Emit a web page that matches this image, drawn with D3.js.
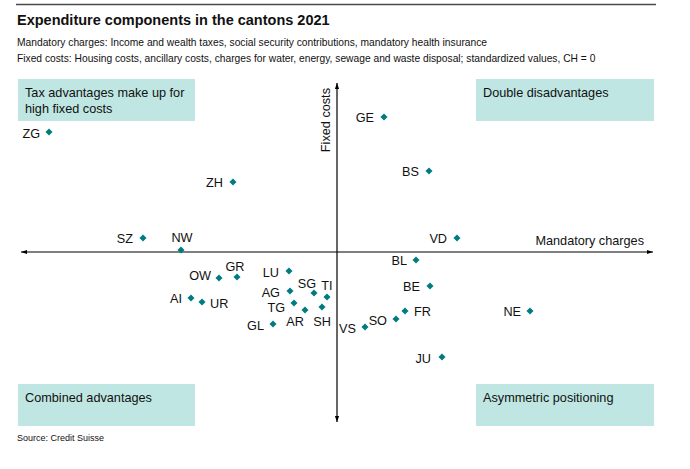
<!DOCTYPE html>
<html><head><meta charset="utf-8">
<script src="https://cdn.jsdelivr.net/npm/d3@7"></script>
<style>
body{margin:0;background:#fff}
text{font-family:"Liberation Sans",Arial,Helvetica,sans-serif;fill:#111}
</style>
</head><body>
<svg id="chart" width="690" height="469"></svg>
<script>
// ---- data ----
const cantons = ["ZG","ZH","SZ","NW","GE","BS","VD","BL","BE","FR","SO","VS","NE","JU","OW","GR","AI","UR","LU","AG","SG","TI","TG","AR","SH","GL"];
const mandatoryCharges = [-2.88,-1.04,-1.94,-1.56,0.47,0.92,1.20,0.79,0.93,0.68,0.59,0.28,1.93,1.05,-1.18,-1.00,-1.46,-1.35,-0.48,-0.47,-0.23,-0.10,-0.43,-0.32,-0.15,-0.64];
const fixedCosts       = [2.40,1.40,0.28,0.04,2.70,1.62,0.28,-0.16,-0.68,-1.18,-1.34,-1.50,-1.18,-2.10,-0.52,-0.50,-0.92,-1.00,-0.38,-0.78,-0.82,-0.90,-1.02,-1.16,-1.10,-1.44];
const quadrantTexts = [["Tax advantages make up for","high fixed costs"],["Double disadvantages"],["Combined advantages"],["Asymmetric positioning"]];
const titleText = "Expenditure components in the cantons 2021";
const subtitleLines = ["Mandatory charges: Income and wealth taxes, social security contributions, mandatory health insurance",
  "Fixed costs: Housing costs, ancillary costs, charges for water, energy, sewage and waste disposal; standardized values, CH = 0"];
const xAxisTitle = "Mandatory charges";
const yAxisTitle = "Fixed costs";
const sourceText = "Source: Credit Suisse";

// ---- label placement (style) ----
const labelPos = {
  ZG:[-9,1,"end"], ZH:[-10,0,"end"], SZ:[-10,0,"end"], NW:[1,-12.5,"middle"],
  GE:[-10,0,"end"], BS:[-10,0,"end"], VD:[-10,0,"end"], BL:[-9,0,"end"],
  BE:[-10,0,"end"], FR:[9,0,"start"], SO:[-9,1,"end"], VS:[-9,1,"end"],
  NE:[-9,0,"end"], JU:[-11,1,"end"], OW:[-8,-3,"end"], GR:[-2,-10.5,"middle"],
  AI:[-9,0,"end"], UR:[8,1,"start"], LU:[-10,1,"end"], AG:[-10,1,"end"],
  SG:[-7,-10,"middle"], TI:[0,-12,"middle"], TG:[-9,4,"end"], AR:[-10,11,"middle"],
  SH:[0,14,"middle"], GL:[-9,1,"end"]
};

const svg = d3.select("#chart");
const x = d3.scaleLinear().domain([-3.2,3.2]).range([17,657]);
const y = d3.scaleLinear().domain([-3.7,3.5]).range([437,77]);

const teal = "#007b7f", boxFill = "#bfe6e2";

// header
svg.append("line").attr("x1",16).attr("x2",656).attr("y1",4.5).attr("y2",4.5)
  .attr("stroke","#4a4a4a").attr("stroke-width",1.5);
svg.append("text").attr("x",17).attr("y",25).attr("font-size",14.5).attr("font-weight","bold").text(titleText);
svg.selectAll("text.sub").data(subtitleLines).join("text").attr("class","sub")
  .attr("x",17).attr("y",(d,i)=>46+i*15.5).attr("font-size",10.25).text(d=>d);

// quadrant boxes
const boxes = [{x:18,y:79,w:177,h:42,tx:25},{x:476,y:79,w:178,h:42,tx:483},
               {x:18,y:384,w:177,h:42,tx:25},{x:476,y:384,w:178,h:42,tx:483}];
boxes.forEach((b,i)=>{
  svg.append("rect").attr("x",b.x).attr("y",b.y).attr("width",b.w).attr("height",b.h).attr("fill",boxFill);
  quadrantTexts[i].forEach((t,j)=>{
    svg.append("text").attr("x",b.tx).attr("y",b.y+18+j*15.5).attr("font-size",12.7).text(t);
  });
});

// axes with arrows
const defs = svg.append("defs");
defs.append("marker").attr("id","arr").attr("viewBox","0 0 10 10").attr("refX",10).attr("refY",5)
  .attr("markerWidth",6).attr("markerHeight",6).attr("markerUnits","userSpaceOnUse").attr("orient","auto-start-reverse")
  .append("path").attr("d","M0,1.5L10,5L0,8.5Z").attr("fill","#000");
svg.append("line").attr("x1",x(-3.16)).attr("x2",x(3.16)).attr("y1",y(0)).attr("y2",y(0))
  .attr("stroke","#000").attr("stroke-width",1.2).attr("marker-start","url(#arr)").attr("marker-end","url(#arr)");
svg.append("line").attr("x1",x(0)).attr("x2",x(0)).attr("y1",y(3.38)).attr("y2",y(-3.4))
  .attr("stroke","#000").attr("stroke-width",1.2).attr("marker-start","url(#arr)").attr("marker-end","url(#arr)");
svg.append("text").attr("x",644).attr("y",y(0)-7).attr("text-anchor","end").attr("font-size",12.7).text(xAxisTitle);
svg.append("text").attr("transform",`translate(${x(0)-7},${y(3.28)}) rotate(-90)`).attr("text-anchor","end")
  .attr("font-size",12.7).text(yAxisTitle);

// points
const pts = cantons.map((c,i)=>({c, mx:mandatoryCharges[i], fc:fixedCosts[i]}));
svg.selectAll("path.pt").data(pts).join("path").attr("class","pt")
  .attr("d", d3.symbol().type(d3.symbolSquare).size(25))
  .attr("transform",d=>`translate(${x(d.mx)},${y(d.fc)}) rotate(45)`)
  .attr("fill",teal);
svg.selectAll("text.lab").data(pts).join("text").attr("class","lab")
  .attr("x",d=>x(d.mx)+labelPos[d.c][0]).attr("y",d=>y(d.fc)+labelPos[d.c][1])
  .attr("dy","0.36em").attr("text-anchor",d=>labelPos[d.c][2]).attr("font-size",12.7).text(d=>d.c);

svg.append("text").attr("x",17).attr("y",441).attr("font-size",9).text(sourceText);
</script>
</body></html>
